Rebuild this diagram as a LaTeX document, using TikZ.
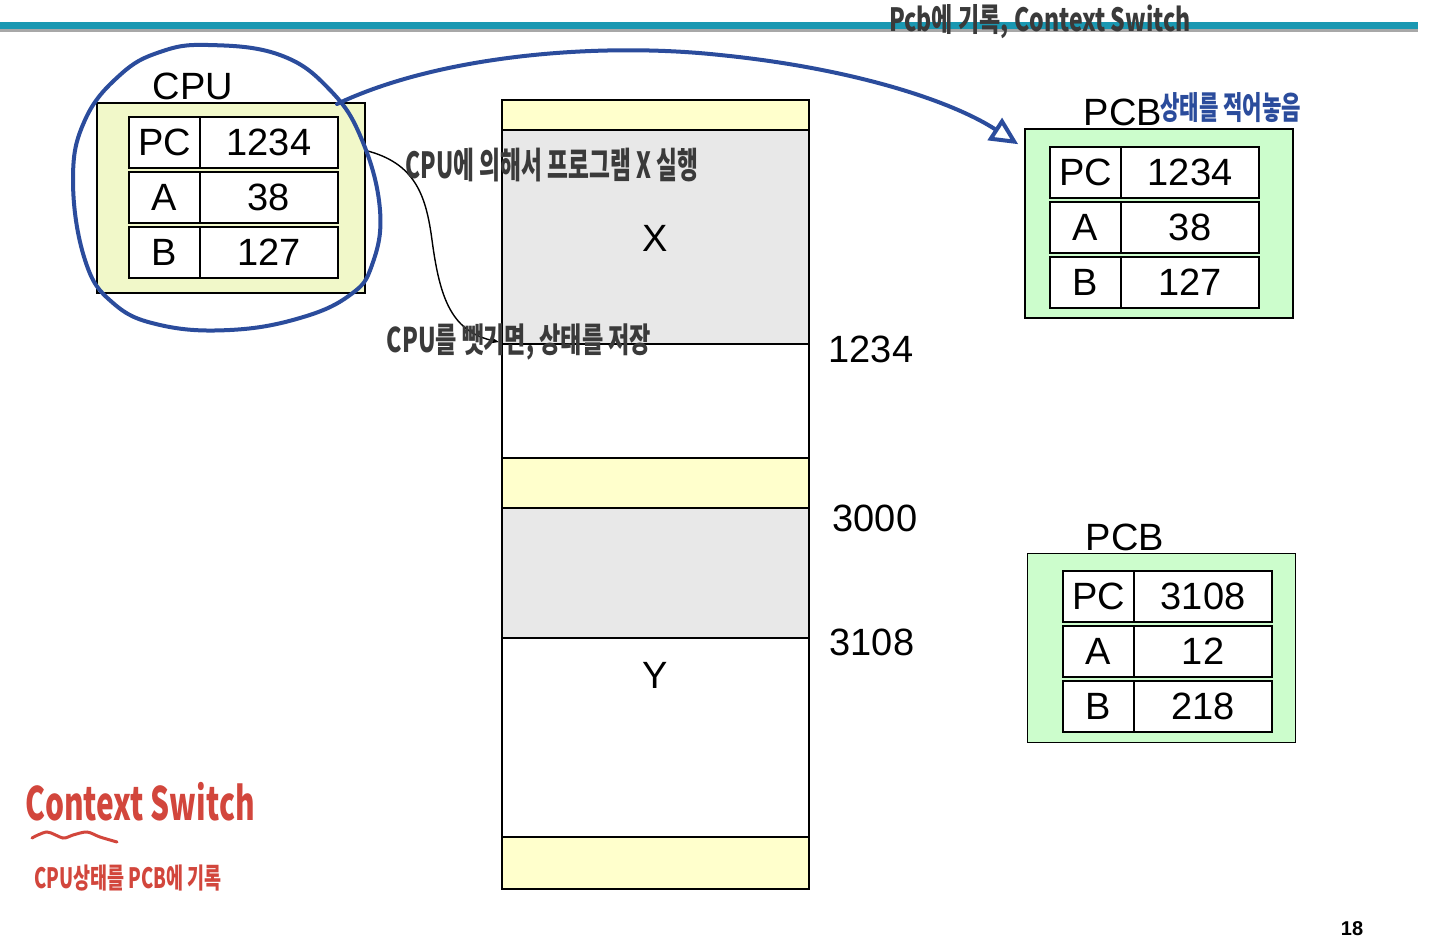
\documentclass[tikz,border=0pt]{standalone}
\usepackage{fontspec}
\setmainfont{Liberation Sans}
\newfontfamily\handfont{Noto Sans CJK KR}
\usetikzlibrary{arrows.meta,positioning}
\definecolor{csBar}{HTML}{1A98B2}
\definecolor{csBarShade}{HTML}{A8A8A8}
\definecolor{csCpu}{HTML}{F1F8C9}
\definecolor{csPcb}{HTML}{CCFDCC}
\definecolor{csMemYel}{HTML}{FFFFCC}
\definecolor{csMemGrey}{HTML}{E8E8E8}
\definecolor{csPen}{HTML}{3A3A3A}
\definecolor{csBlue}{HTML}{2B4C9C}
\definecolor{csRed}{HTML}{D2463C}
\tikzset{
  lbl/.style={font=\fontsize{19}{22}\selectfont, inner sep=0pt},
  regbox/.style={
    draw, line width=0.9pt, outer sep=0pt, inner sep=0pt, fill=white,
    minimum height=25.5pt, font=\fontsize{19}{22}\selectfont
  },
  regname/.style={regbox, minimum width=35.5pt},
  regval/.style={regbox, minimum width=69pt},
  cpubox/.style={draw, line width=0.8pt, fill=csCpu, minimum width=134pt, minimum height=95pt, inner sep=0pt},
  pcbbox/.style={draw, line width=0.8pt, fill=csPcb, minimum width=134pt, minimum height=94.5pt, inner sep=0pt},
  memcell/.style={draw, line width=0.8pt},
  hand/.style={font=\handfont\bfseries\fontsize{#1}{#1}\selectfont, text=csPen, inner sep=0pt},
  bluepen/.style={draw=csBlue, line width=2pt, line cap=round, line join=round},
  redpen/.style={draw=csRed, line width=1.5pt, line cap=round},
  thinflow/.style={line width=0.7pt, -{Stealth[length=4pt]}}
}

\begin{document}
\begin{tikzpicture}[x=0.5pt, y=-0.5pt]
  \useasboundingbox[fill=white] (0,0) rectangle (1440,941);

  % title bar
  \draw[csBar, line width=3.5pt] (0,26) -- (1418,26);
  \draw[csBarShade, line width=1.5pt] (0,31) -- (1418,31);
  \node[hand=16] (slidetitle) at (1040,22) {\scalebox{0.72}[1]{Pcb에 기록, Context Switch}};

  % CPU
  \node[cpubox] (cpu) at (231,198) {};
  \node[lbl] (cpulabel) at (193,86) {CPU};
  \node[regname, anchor=north west] (cpupc) at (129,117) {PC};
  \node[regval, right=0pt of cpupc] (cpupcv) {1234};
  \node[regname, below=2pt of cpupc] (cpua) {A};
  \node[regval, right=0pt of cpua] (cpuav) {38};
  \node[regname, below=2pt of cpua] (cpub) {B};
  \node[regval, right=0pt of cpub] (cpubv) {127};

  % memory
  \draw[memcell, fill=csMemYel] (502,100) rectangle (809,130);
  \draw[memcell, fill=csMemGrey] (502,130) rectangle (809,344);
  \draw[memcell, fill=white] (502,344) rectangle (809,458);
  \draw[memcell, fill=csMemYel] (502,458) rectangle (809,508);
  \draw[memcell, fill=csMemGrey] (502,508) rectangle (809,638);
  \draw[memcell, fill=white] (502,638) rectangle (809,837);
  \draw[memcell, fill=csMemYel] (502,837) rectangle (809,889);
  \node[lbl] (progx) at (655,238) {X};
  \node[lbl] (progy) at (655,675) {Y};
  \node[lbl] (addr1234) at (871,349) {1234};
  \node[lbl] (addr3000) at (875,518) {3000};
  \node[lbl] (addr3108) at (872,642) {3108};

  % PCB of X
  \node[pcbbox] (pcbx) at (1159,223.5) {};
  \node[lbl] (pcbxlabel) at (1123,112) {PCB};
  \node[regname, anchor=north west] (pcbxpc) at (1050,147) {PC};
  \node[regval, right=0pt of pcbxpc] (pcbxpcv) {1234};
  \node[regname, below=2pt of pcbxpc] (pcbxa) {A};
  \node[regval, right=0pt of pcbxa] (pcbxav) {38};
  \node[regname, below=2pt of pcbxa] (pcbxb) {B};
  \node[regval, right=0pt of pcbxb] (pcbxbv) {127};
  \node[hand=16, text=csBlue, anchor=west] (pcbxnote) at (1160,108) {\scalebox{0.66}[1]{상태를 적어놓음}};

  % PCB of Y
  \node[pcbbox] (pcby) at (1161.5,648) {};
  \node[lbl] (pcbylabel) at (1125,537) {PCB};
  \node[regname, anchor=north west] (pcbypc) at (1063,571) {PC};
  \node[regval, right=0pt of pcbypc] (pcbypcv) {3108};
  \node[regname, below=2pt of pcbypc] (pcbya) {A};
  \node[regval, right=0pt of pcbya] (pcbyav) {12};
  \node[regname, below=2pt of pcbya] (pcbyb) {B};
  \node[regval, right=0pt of pcbyb] (pcbybv) {218};

  % pen notes
  \coordinate (savept) at (499,342);
  \draw[thinflow] ([yshift=-4pt]cpu.east |- cpupc) .. controls (415,163) and (426,195) .. (432,240)
    .. controls (440,300) and (452,332) .. (savept);
  \node[hand=18] (runnote) at (552,165) {\scalebox{0.63}[1]{CPU에 의해서 프로그램 X 실행}};
  \node[hand=17] (savenote) at (519,342) {\scalebox{0.68}[1]{CPU를 뺏기면, 상태를 저장}};

  \draw[bluepen] plot[smooth cycle, tension=0.7] coordinates {
    (208,45) (280,55) (330,90) (362,140) (380,210) (372,265) (350,295) (300,318)
    (230,330) (160,325) (113,303) (85,260) (73,180) (85,120) (120,75) (160,52)};
  \coordinate (circlehook) at (337,104);
  \draw[bluepen, -{Triangle[open, length=14pt, width=13pt]}] (circlehook)
    .. controls (440,55) and (600,42) .. (720,55)
    .. controls (850,68) and (950,100) .. ([xshift=-3pt, yshift=-8pt]pcbx.north west);

  \node[hand=23, text=csRed] (redtitle) at (140,802) {\scalebox{0.65}[1]{Context Switch}};
  \draw[redpen] plot[smooth] coordinates {(32,838) (47,832) (63,838) (73,835) (87,832) (100,837) (117,842)};
  \node[hand=14, text=csRed] (rednote) at (128,878) {\scalebox{0.66}[1]{CPU상태를 PCB에 기록}};

  \node[font=\bfseries\fontsize{10}{12}\selectfont] (pageno) at (1352,929) {18};
\end{tikzpicture}
\end{document}
